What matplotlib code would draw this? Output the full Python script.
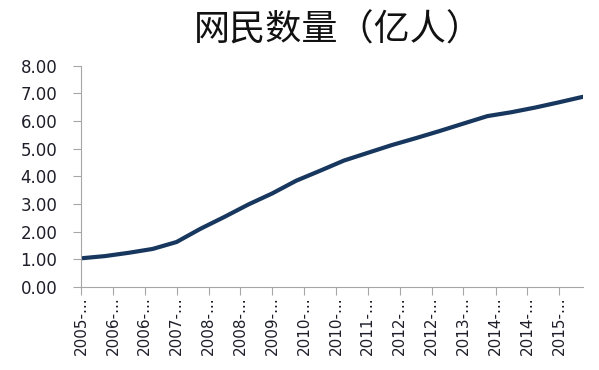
import matplotlib.pyplot as plt
import pandas as pd

# CNNIC half-year figures, 100 million users
dates = ["2005-06", "2005-12", "2006-06", "2006-12", "2007-06", "2007-12",
         "2008-06", "2008-12", "2009-06", "2009-12", "2010-06", "2010-12",
         "2011-06", "2011-12", "2012-06", "2012-12", "2013-06", "2013-12",
         "2014-06", "2014-12", "2015-06", "2015-12"]
users = [1.03, 1.11, 1.23, 1.37, 1.62, 2.10, 2.53, 2.98, 3.38, 3.84, 4.20, 4.57,
         4.85, 5.13, 5.38, 5.64, 5.91, 6.18, 6.32, 6.49, 6.68, 6.88]
title = "网民数量（亿人）"

plt.rcParams["font.family"] = ["DejaVu Sans"]

x = pd.to_datetime(dates)
ticks = pd.date_range(x[0], x[-1], freq="8MS")

fig = plt.figure(figsize=(5.99, 3.70), dpi=100)
ax = fig.add_axes([0.1352, 0.225, 0.838, 0.597])

ax.plot(x, users, color="#17375E", linewidth=3, solid_capstyle="round")

ax.set_xlim(x[0], x[-1])
ax.set_ylim(0, 8)
ax.set_yticks(range(0, 9))
ax.set_yticklabels([f"{v:.2f}" for v in range(0, 9)])
ax.set_xticks(ticks)
ax.set_xticklabels([f"{d.year}-..." for d in ticks], rotation=90, fontsize=11)

for s in ["top", "right"]:
    ax.spines[s].set_visible(False)
for s in ["left", "bottom"]:
    ax.spines[s].set_color("#A6A6A6")
ax.tick_params(axis="both", colors="#A6A6A6", length=6, labelcolor="#1E1E2A")
ax.tick_params(axis="y", labelsize=12, pad=11)
ax.tick_params(axis="x", pad=1)

fig.text(0.565, 0.918, title, ha="center", va="center", fontsize=26,
         family=["Noto Sans CJK SC", "DejaVu Sans"], color="#111111")

fig.savefig("out.png", dpi=100)
